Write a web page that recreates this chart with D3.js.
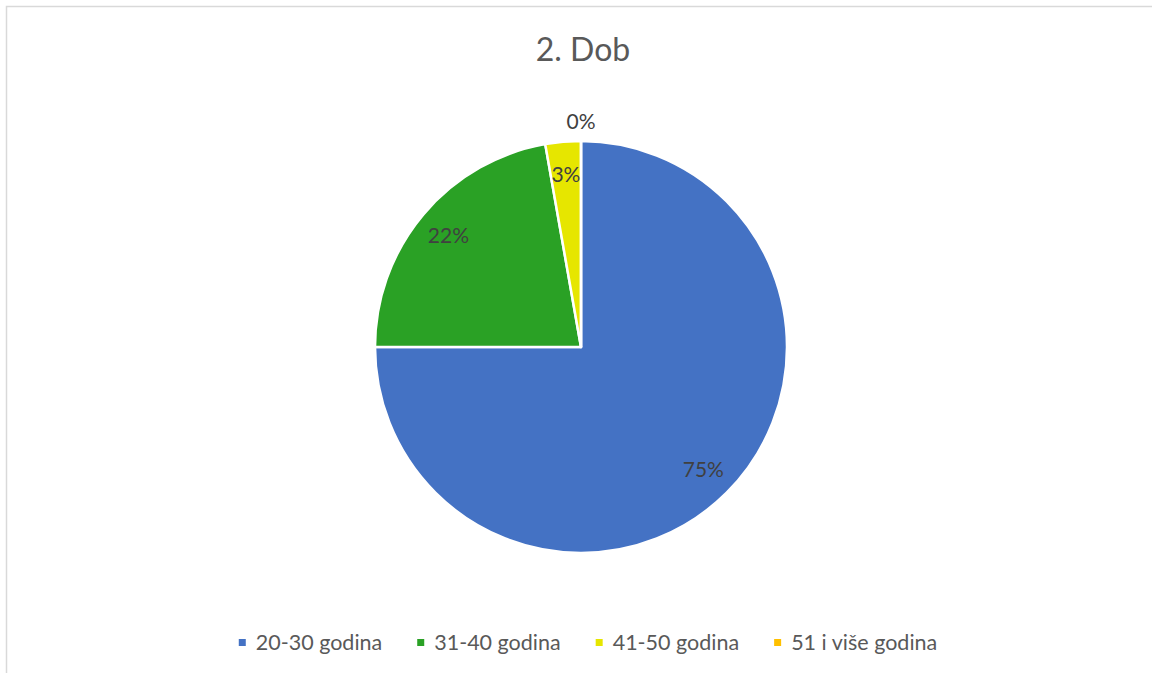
<!DOCTYPE html>
<html>
<head>
<meta charset="utf-8">
<script src="https://cdn.jsdelivr.net/npm/d3@7"></script>
<style>
  html, body { margin: 0; padding: 0; background: #fff; }
  svg { display: block; font-family: Lato, "Open Sans", sans-serif; }
</style>
</head>
<body>
<div id="chart"></div>
<script>
// ── Data ───────────────────────────────────────────────────────────────────
const title = "2. Dob";
const categories = ["20-30 godina", "31-40 godina", "41-50 godina", "51 i više godina"];
const counts = [27, 8, 1, 0];
const colors = ["#4472C4", "#2AA125", "#E6E600", "#FFC000"];

// ── Dimensions ─────────────────────────────────────────────────────────────
const W = 1152;
const H = 673;
const cx = 581;
const cy = 347;
const R = 206;

const svg = d3
  .select("#chart")
  .append("svg")
  .attr("width", W)
  .attr("height", H);

// ── Chart border ───────────────────────────────────────────────────────────
svg
  .append("rect")
  .attr("x", 6.5)
  .attr("y", 6.5)
  .attr("width", W + 20)
  .attr("height", H + 20)
  .attr("fill", "none")
  .attr("stroke", "#d9d9d9")
  .attr("stroke-width", 1.5);

// ── Title ──────────────────────────────────────────────────────────────────
svg
  .append("text")
  .attr("x", 583)
  .attr("y", 61)
  .attr("text-anchor", "middle")
  .style("font-size", "32px")
  .attr("fill", "#595959")
  .text(title);

// ── Pie ────────────────────────────────────────────────────────────────────
const total = d3.sum(counts);
const pie = d3.pie().sort(null).value((d) => d.value);
const arcs = pie(categories.map((c, i) => ({ name: c, value: counts[i], color: colors[i] })));

const arc = d3.arc().innerRadius(0).outerRadius(R);
const labelArc = d3.arc().innerRadius(R * 0.84).outerRadius(R * 0.84);

const g = svg.append("g").attr("transform", `translate(${cx},${cy})`);

g.selectAll("path.slice")
  .data(arcs)
  .join("path")
  .attr("class", "slice")
  .attr("d", arc)
  .attr("fill", (d) => d.data.color)
  .attr("stroke", "#fff")
  .attr("stroke-width", 2.5)
  .attr("stroke-linejoin", "round");

// ── Data labels ────────────────────────────────────────────────────────────
g.selectAll("text.label")
  .data(arcs)
  .join("text")
  .attr("class", "label")
  .attr("transform", (d) => {
    if (d.data.value === 0) {
      const a = d.startAngle;
      return `translate(${Math.sin(a) * (R + 20)},${-Math.cos(a) * (R + 20)})`;
    }
    return `translate(${labelArc.centroid(d)})`;
  })
  .attr("text-anchor", "middle")
  .attr("dy", "0.36em")
  .style("font-size", "21px")
  .attr("fill", "#404040")
  .text((d) => `${Math.round((d.data.value / total) * 100)}%`);

// ── Legend ─────────────────────────────────────────────────────────────────
const legend = svg.append("g").attr("class", "legend");
const items = legend
  .selectAll("g")
  .data(categories)
  .join("g");

items
  .append("rect")
  .attr("width", 7)
  .attr("height", 7)
  .attr("y", -11)
  .attr("fill", (d, i) => colors[i]);

items
  .append("text")
  .attr("x", 17)
  .style("font-size", "21.5px")
  .attr("fill", "#595959")
  .text((d) => d);

let xPos = 0;
items.each(function () {
  const w = d3.select(this).select("text").node().getComputedTextLength();
  d3.select(this).attr("transform", `translate(${xPos},0)`);
  xPos += 17 + w + 35;
});
const legendWidth = xPos - 35;
legend.attr("transform", `translate(${588 - legendWidth / 2},650)`);
</script>
</body>
</html>
